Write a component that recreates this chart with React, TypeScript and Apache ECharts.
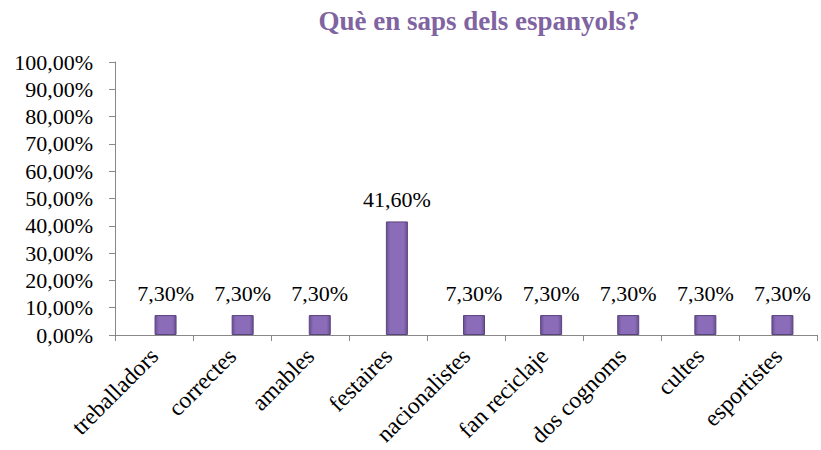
import React, { useEffect, useRef } from "react";
import * as echarts from "echarts";

const categories = [
  "treballadors",
  "correctes",
  "amables",
  "festaires",
  "nacionalistes",
  "fan reciclaje",
  "dos cognoms",
  "cultes",
  "esportistes",
];
const values = [0.073, 0.073, 0.073, 0.416, 0.073, 0.073, 0.073, 0.073, 0.073];
const titleText = "Què en saps dels espanyols?";

const FONT = "'Liberation Serif', 'Times New Roman', serif";
const fmt = (v: number) => (v * 100).toFixed(2).replace(".", ",") + "%";

export default function App() {
  const ref = useRef<HTMLDivElement>(null);
  useEffect(() => {
    if (!ref.current) return;
    const chart = echarts.init(ref.current, null, { renderer: "svg" });
    chart.setOption({
      animation: false,
      backgroundColor: "#ffffff",
      title: {
        text: titleText,
        left: 474,
        top: 2,
        textAlign: "center",
        textStyle: { fontFamily: FONT, fontSize: 27, fontWeight: "bold", color: "#8064A2" },
      },
      grid: [
        { left: 115, top: 62, width: 702, height: 273, containLabel: false },
        { left: 127, top: 62, width: 702, height: 273, containLabel: false },
      ],
      xAxis: [
        {
          type: "category",
          gridIndex: 0,
          data: categories,
          axisLine: { lineStyle: { color: "#888888", width: 1 } },
          axisTick: { show: true, length: 6, lineStyle: { color: "#888888" } },
          axisLabel: {
            rotate: 45,
            margin: 17,
            interval: 0,
            fontFamily: FONT,
            fontSize: 23.5,
            color: "#000000",
          },
        },
        {
          type: "category",
          gridIndex: 1,
          data: categories,
          axisLine: { show: false },
          axisTick: { show: false },
          axisLabel: { show: false },
        },
      ],
      yAxis: [
        {
          type: "value",
          gridIndex: 0,
          min: 0,
          max: 1,
          interval: 0.1,
          axisLine: { show: true, lineStyle: { color: "#888888" } },
          axisTick: { show: true, length: 6, lineStyle: { color: "#888888" } },
          splitLine: {
            lineStyle: { color: "#9a9a9a", width: 1, shadowColor: "#d0d0d0", shadowOffsetY: 1.5, shadowBlur: 0 },
          },
          axisLabel: {
            margin: 22,
            fontFamily: FONT,
            fontSize: 22,
            color: "#000000",
            formatter: (v: number) => fmt(v),
          },
        },
        {
          type: "value",
          gridIndex: 1,
          min: 0,
          max: 1,
          show: false,
        },
      ],
      series: [
        {
          type: "bar",
          xAxisIndex: 1,
          yAxisIndex: 1,
          data: values,
          barWidth: 22,
          itemStyle: {
            color: new echarts.graphic.LinearGradient(0, 0, 1, 0, [
              { offset: 0, color: "#6a4f92" },
              { offset: 0.18, color: "#8a6cb9" },
              { offset: 0.82, color: "#8a6cb9" },
              { offset: 1, color: "#6a4f92" },
            ]),
            borderColor: "#5a447e",
            borderWidth: 1,
          },
          label: {
            show: true,
            position: "top",
            distance: 11,
            fontFamily: FONT,
            fontSize: 22,
            color: "#000000",
            formatter: (p: any) => fmt(p.value),
          },
        },
      ],
    });
    return () => chart.dispose();
  }, []);
  return (
    <div
      ref={ref}
      style={{ position: "fixed", left: 0, top: 0, width: 821, height: 450 }}
    />
  );
}
